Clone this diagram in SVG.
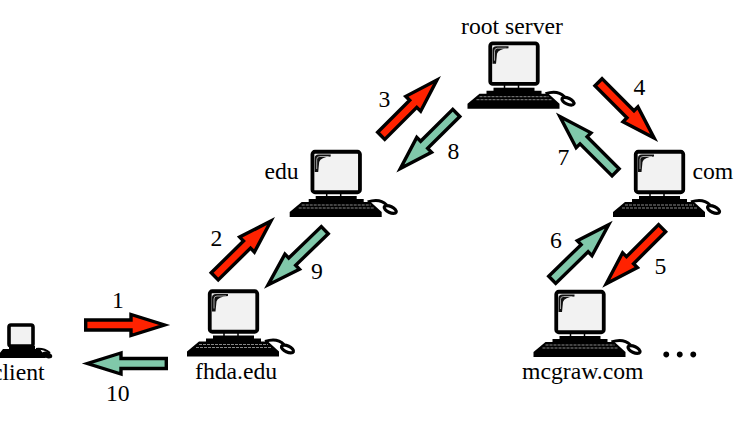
<svg xmlns="http://www.w3.org/2000/svg" xmlns:xlink="http://www.w3.org/1999/xlink" width="744" height="444" viewBox="0 0 744 444">
<style>
text{font-family:"Liberation Serif","Times New Roman",serif;font-size:23.7px;fill:#000}
.dots{font-size:50px;letter-spacing:1px}
.r{fill:#ff2200}
.g{fill:#80c8aa}
.a{stroke:#000;stroke-width:3.4;stroke-linejoin:miter}
</style>
<defs>
<path id="arrow" d="M1.7 -5H47V-10.5L80.5 0L47 10.5V5H1.7Z"/>
<symbol id="pc" overflow="visible">
<rect x="1.75" y="1.75" width="47.5" height="40.5" rx="2.5" fill="#f2f2f2" stroke="#000" stroke-width="3.8"/>
<path d="M4 22V8Q4 4.5 8 4.5H20L20 6.5Q10 7 8.5 12L7.5 22Z" fill="#111"/>
<path d="M6 19V9.5Q6 6.5 9 6.5H18" fill="none" stroke="#ccc" stroke-width=".8"/>
<path d="M16 43V47M30 43V47" stroke="#000" stroke-width="1.5"/>
<rect x="5" y="46" width="41" height="4" fill="#000"/>
<path d="M-2 49H53V52H60L71 62V67H-21V62L-9 52H-2Z" fill="#000"/>
<path d="M-9 55H60M-12 58H63" stroke="#888" stroke-width="1" stroke-dasharray="3 1"/>
<path d="M57 52Q69 48 76 55" fill="none" stroke="#000" stroke-width="3"/>
<ellipse cx="79.5" cy="59.5" rx="6.5" ry="3" transform="rotate(25 79.5 59.5)" fill="#fff" stroke="#000" stroke-width="3.2"/>
</symbol>
</defs>
<g id="client">
<rect x="9" y="325" width="24" height="21" rx="2" fill="#f2f2f2" stroke="#000" stroke-width="3.6"/>
<path d="M9 346H35V349H40L46 358H-4L3 349H9Z" fill="#000"/>
<path d="M36 349Q44 348 50 353" fill="none" stroke="#000" stroke-width="2"/>
<ellipse cx="47" cy="355" rx="5.5" ry="3" transform="rotate(20 47 355)" fill="#000"/>
<text x="-8" y="379.5">client</text>
</g>
<g id="fhda"><use xlink:href="#pc" href="#pc" x="208" y="289.5"/><text x="195" y="379">fhda.edu</text></g>
<g id="edu"><use xlink:href="#pc" href="#pc" x="310.7" y="150"/><text x="264.5" y="179">edu</text></g>
<g id="root"><use xlink:href="#pc" href="#pc" x="488.5" y="41.7"/><text x="461" y="34">root server</text></g>
<g id="com"><use xlink:href="#pc" href="#pc" x="634" y="150"/><text x="692.5" y="178.5">com</text></g>
<g id="mcgraw"><use xlink:href="#pc" href="#pc" x="554.5" y="290"/><text x="522" y="378.5">mcgraw.com</text><text class="dots" x="660" y="357">...</text></g>
<g id="connectors">
<use xlink:href="#arrow" href="#arrow" class="a r" transform="translate(84 325)"/>
<use xlink:href="#arrow" href="#arrow" class="a g" transform="translate(168 363.5) rotate(180)"/>
<use xlink:href="#arrow" href="#arrow" class="a r" transform="translate(213.5 277.5) rotate(-44.5)"/>
<use xlink:href="#arrow" href="#arrow" class="a g" transform="translate(326 229) rotate(136)"/>
<use xlink:href="#arrow" href="#arrow" class="a r" transform="translate(380 137) rotate(-45)"/>
<use xlink:href="#arrow" href="#arrow" class="a g" transform="translate(457.5 111.7) rotate(135.2)"/>
<use xlink:href="#arrow" href="#arrow" class="a r" transform="translate(597.3 81) rotate(45.1)"/>
<use xlink:href="#arrow" href="#arrow" class="a g" transform="translate(616.8 173.5) rotate(225)"/>
<use xlink:href="#arrow" href="#arrow" class="a r" transform="translate(663.3 227) rotate(135.1)"/>
<use xlink:href="#arrow" href="#arrow" class="a g" transform="translate(551 281) rotate(-44.3)"/>
<text x="112" y="307.5">1</text>
<text x="106" y="401">10</text>
<text x="210.5" y="246">2</text>
<text x="311" y="278.5">9</text>
<text x="378.5" y="106.5">3</text>
<text x="447.5" y="159">8</text>
<text x="633.5" y="95">4</text>
<text x="557.5" y="165">7</text>
<text x="654.5" y="273.5">5</text>
<text x="550" y="247.5">6</text>
</g>
</svg>
